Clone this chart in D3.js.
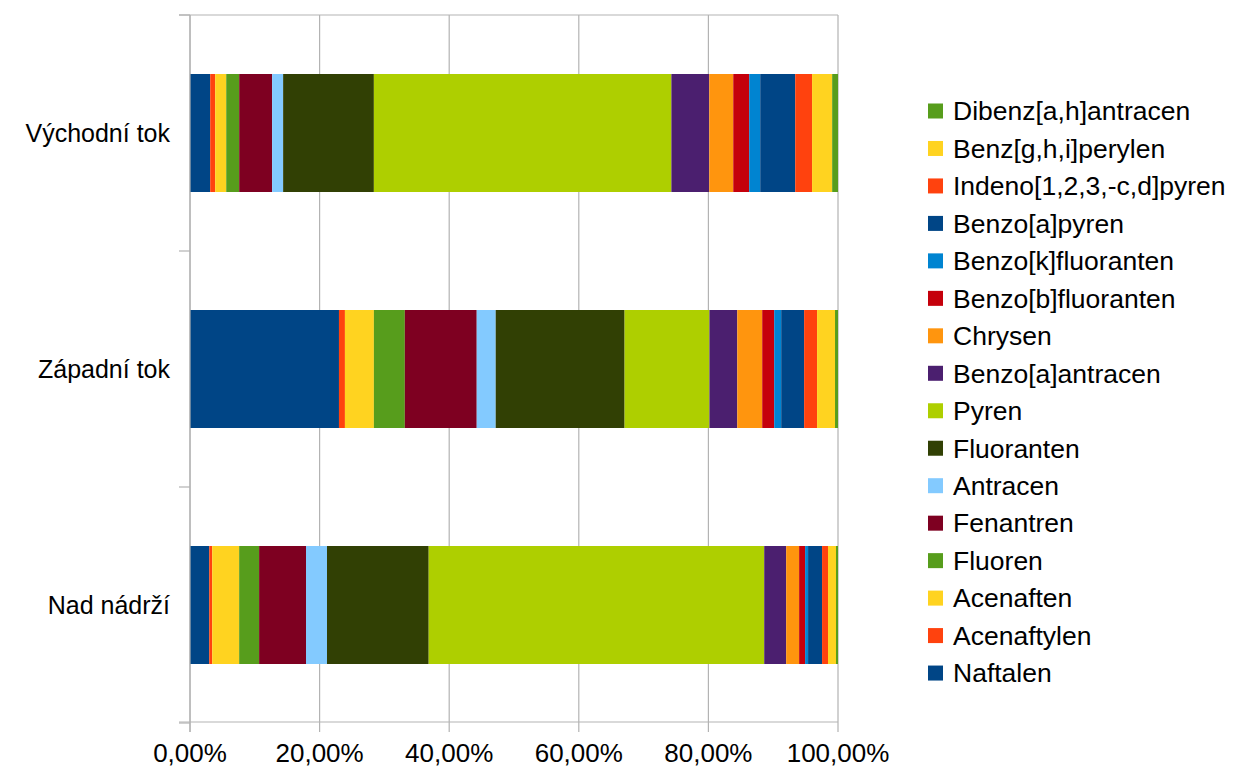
<!DOCTYPE html>
<html>
<head>
<meta charset="utf-8">
<script src="https://cdn.jsdelivr.net/npm/d3@7"></script>
<style>
  body { margin: 0; background: #fff; }
  svg text { font-family: "Liberation Sans", Arial, sans-serif; fill: #000; }
</style>
</head>
<body>
<svg id="chart" width="1236" height="767"></svg>
<script>
// Categories (top to bottom)
const categories = ["Východní tok", "Západní tok", "Nad nádrží"];

// Compounds in stacking order (left to right)
const compounds = [
    "Naftalen", "Acenaftylen", "Acenaften", "Fluoren", "Fenantren", "Antracen",
    "Fluoranten", "Pyren", "Benzo[a]antracen", "Chrysen", "Benzo[b]fluoranten",
    "Benzo[k]fluoranten", "Benzo[a]pyren", "Indeno[1,2,3,-c,d]pyren",
    "Benz[g,h,i]perylen", "Dibenz[a,h]antracen"
];

// Shares in % per category, same order as compounds
const vychodniTok = [3.12, 0.77, 1.7, 2.0, 5.08, 1.7, 14.0, 45.9, 5.85, 3.7, 2.46, 1.7, 5.4, 2.6, 3.1, 0.9];
const zapadniTok = [23.0, 0.92, 4.47, 4.78, 11.1, 2.93, 19.9, 13.1, 4.3, 3.85, 1.85, 1.08, 3.54, 2.0, 2.77, 0.46];
const nadNadrzi = [2.97, 0.46, 4.16, 3.08, 7.24, 3.24, 15.7, 51.8, 3.39, 2.0, 0.92, 0.46, 2.16, 0.92, 1.23, 0.31];

const xTicks = [0, 0.2, 0.4, 0.6, 0.8, 1.0];

const colors = [
    "#004586", "#ff420e", "#ffd320", "#579d1c", "#7e0021", "#83caff",
    "#314004", "#aecf00", "#4b1f6f", "#ff950e", "#c5000b", "#0084d1",
    "#004586", "#ff420e", "#ffd320", "#579d1c"
];

const svg = d3.select("#chart");
const plotLeft = 190, plotRight = 838, plotTop = 15, plotBottom = 723;
const gridColor = "#b3b3b3";

// Build normalised table
const seriesByCat = [vychodniTok, zapadniTok, nadNadrzi];
const table = categories.map((c, i) => {
    const row = { cat: c };
    const total = d3.sum(seriesByCat[i]);
    compounds.forEach((k, j) => { row[k] = seriesByCat[i][j] / total; });
    return row;
});

const stacked = d3.stack().keys(compounds)(table);

const x = d3.scaleLinear().domain([0, 1]).range([plotLeft, plotRight]);
const y = d3.scaleBand().domain(categories).range([plotTop, plotBottom])
    .paddingInner(0.5).paddingOuter(0.25);
const color = d3.scaleOrdinal().domain(compounds).range(colors);

// Vertical gridlines
svg.append("g")
    .selectAll("line")
    .data(xTicks)
    .enter()
    .append("line")
    .attr("x1", d => x(d)).attr("x2", d => x(d))
    .attr("y1", plotTop).attr("y2", plotBottom + 9)
    .style("stroke", gridColor)
    .style("stroke-width", 1.2);

// Top line
svg.append("line")
    .attr("x1", plotLeft - 11).attr("x2", plotRight)
    .attr("y1", plotTop).attr("y2", plotTop)
    .style("stroke", gridColor).style("stroke-width", 1.2);

// Bars
svg.append("g")
    .selectAll("g")
    .data(stacked)
    .enter()
    .append("g")
    .attr("fill", d => color(d.key))
    .selectAll("rect")
    .data(d => d)
    .enter()
    .append("rect")
    .attr("x", d => x(d[0]))
    .attr("y", d => y(d.data.cat))
    .attr("width", d => x(d[1]) - x(d[0]))
    .attr("height", y.bandwidth());

// Category axis with ticks at band boundaries
const boundaries = [plotTop].concat(categories.map(c => y(c) + y.bandwidth() + y.step() * 0.25));
svg.append("line")
    .attr("x1", plotLeft).attr("x2", plotLeft)
    .attr("y1", plotTop).attr("y2", plotBottom + 9)
    .style("stroke", gridColor).style("stroke-width", 1.2);
svg.append("g")
    .selectAll("line")
    .data(boundaries)
    .enter()
    .append("line")
    .attr("x1", plotLeft - 11).attr("x2", plotLeft)
    .attr("y1", d => d).attr("y2", d => d)
    .style("stroke", gridColor).style("stroke-width", 1.2);

// Value axis line
svg.append("line")
    .attr("x1", plotLeft - 11).attr("x2", plotRight)
    .attr("y1", plotBottom - 1).attr("y2", plotBottom - 1)
    .style("stroke", gridColor).style("stroke-width", 1.2);

// Category labels
svg.append("g")
    .selectAll("text")
    .data(categories)
    .enter()
    .append("text")
    .attr("x", 170)
    .attr("y", d => y(d) + y.bandwidth() / 2)
    .attr("dy", "0.35em")
    .attr("text-anchor", "end")
    .style("font-size", "25px")
    .text(d => d);

// Value tick labels
const fmt = d => d3.format(".2f")(d * 100).replace(".", ",") + "%";
svg.append("g")
    .selectAll("text")
    .data(xTicks)
    .enter()
    .append("text")
    .attr("x", d => x(d))
    .attr("y", 762)
    .attr("text-anchor", "middle")
    .style("font-size", "26px")
    .text(fmt);

// Legend (reverse order)
const legendItems = compounds.slice().reverse();
const legend = svg.append("g")
    .selectAll("g")
    .data(legendItems)
    .enter()
    .append("g")
    .attr("transform", (d, i) => `translate(928, ${111 + i * 37.47})`);
legend.append("rect")
    .attr("x", 0).attr("y", -7.5)
    .attr("width", 15).attr("height", 15)
    .attr("fill", d => color(d));
legend.append("text")
    .attr("x", 25)
    .attr("dy", "0.35em")
    .style("font-size", "26.5px")
    .text(d => d);
</script>
</body>
</html>
